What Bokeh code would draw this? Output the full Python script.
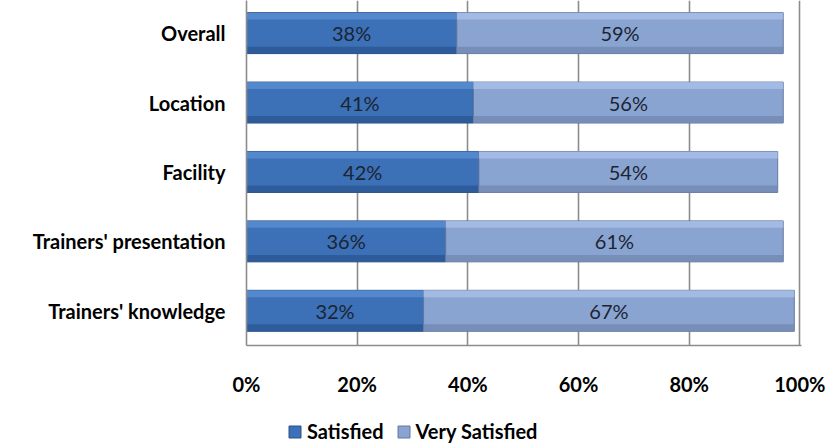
from bokeh.plotting import figure
from bokeh.layouts import column
from bokeh.models import ColumnDataSource, FixedTicker, Legend, LegendItem
from bokeh.transform import dodge
from bokeh.core.properties import value
from bokeh.embed import file_html
from bokeh.resources import INLINE

categories = ["Trainers' knowledge", "Trainers' presentation", "Facility", "Location", "Overall"]
satisfied = [32, 36, 42, 41, 38]
very_satisfied = [67, 61, 54, 56, 59]
series_names = ["Satisfied", "Very Satisfied"]
x_ticks = [0, 20, 40, 60, 80, 100]
x_tick_labels = ["0%", "20%", "40%", "60%", "80%", "100%"]

FONT = "Lato"
BAR_H = 0.59

ypos = list(range(len(categories)))
src = ColumnDataSource(dict(
    y=ypos,
    s0=[0] * len(satisfied),
    s1=satisfied,
    v1=[a + b for a, b in zip(satisfied, very_satisfied)],
    s_mid=[a / 2 for a in satisfied],
    v_mid=[a + b / 2 for a, b in zip(satisfied, very_satisfied)],
    s_lbl=[f"{a}%" for a in satisfied],
    v_lbl=[f"{b}%" for b in very_satisfied],
))

p = figure(width=832, height=398, x_range=(0, 100.3), y_range=(-0.5, 4.47),
           output_backend="svg", toolbar_location=None,
           min_border_top=0, min_border_left=246, min_border_right=31, min_border_bottom=52)
p.outline_line_color = None
p.background_fill_color = "white"
p.border_fill_color = "white"

# gridlines
p.xgrid.ticker = FixedTicker(ticks=x_ticks[1:])
p.xgrid.grid_line_color = "#8c8c8c"
p.xgrid.grid_line_width = 1.6
p.ygrid.grid_line_color = None

styles = {
    "Satisfied": dict(mid="#3c70b7", top="#5a8ed2", bot="#2b5894", edge="#2a5088"),
    "Very Satisfied": dict(mid="#8aa4d1", top="#a9c1e8", bot="#7288b3", edge="#62789f"),
}
cols = {"Satisfied": ("s0", "s1"), "Very Satisfied": ("s1", "v1")}

for name in series_names:
    left, right = cols[name]
    st = styles[name]
    p.hbar(y="y", left=left, right=right, height=BAR_H, source=src,
           fill_color=st["mid"], line_color=st["edge"], line_width=1)
    p.hbar(y=dodge("y", BAR_H / 2 - 0.05, range=p.y_range), left=left, right=right, height=0.1,
           source=src, fill_color=st["top"], line_color=None, fill_alpha=0.8)
    p.hbar(y=dodge("y", -BAR_H / 2 + 0.05, range=p.y_range), left=left, right=right, height=0.1,
           source=src, fill_color=st["bot"], line_color=None, fill_alpha=0.8)

for xcol, tcol in [("s_mid", "s_lbl"), ("v_mid", "v_lbl")]:
    p.text(x=xcol, y="y", text=tcol, source=src, text_align="center", text_baseline="middle",
           text_font=value(FONT), text_font_size="20px", text_color="#1b2433")

# y axis
p.yaxis.ticker = FixedTicker(ticks=ypos)
p.yaxis.major_label_overrides = {i: c for i, c in zip(ypos, categories)}
p.yaxis.major_tick_line_color = None
p.yaxis.minor_tick_line_color = None
p.yaxis.axis_line_color = "#8c8c8c"
p.yaxis.axis_line_width = 1.6
p.yaxis.major_label_text_font = FONT
p.yaxis.major_label_text_font_style = "bold"
p.yaxis.major_label_text_font_size = "20px"
p.yaxis.major_label_text_color = "black"
p.yaxis.major_label_standoff = 15

# x axis
p.xaxis.ticker = FixedTicker(ticks=x_ticks)
p.xaxis.major_label_overrides = {t: l for t, l in zip(x_ticks, x_tick_labels)}
p.xaxis.major_tick_line_color = None
p.xaxis.minor_tick_line_color = None
p.xaxis.axis_line_color = "#8c8c8c"
p.xaxis.axis_line_width = 1.6
p.xaxis.major_label_text_font = FONT
p.xaxis.major_label_text_font_style = "bold"
p.xaxis.major_label_text_font_size = "20px"
p.xaxis.major_label_text_color = "black"
p.xaxis.major_label_standoff = 20

# legend strip: a small figure below the chart whose view shows none of its bars,
# so only its legend is visible
lg = figure(width=832, height=47, x_range=(1000, 1001), y_range=(1000, 1001),
            output_backend="svg", toolbar_location=None,
            x_axis_type=None, y_axis_type=None,
            min_border_top=0, min_border_left=0, min_border_right=0, min_border_bottom=0)
lg.outline_line_color = None
lg.xgrid.grid_line_color = None
lg.ygrid.grid_line_color = None
legend_items = []
for name in series_names:
    left, right = cols[name]
    st = styles[name]
    r = lg.hbar(y="y", left=left, right=right, height=BAR_H, source=src,
                fill_color=st["mid"], line_color=st["edge"], line_width=1)
    legend_items.append(LegendItem(label=name, renderers=[r]))

legend = Legend(items=legend_items, orientation="horizontal", location=(41, 2),
                glyph_width=15, glyph_height=15, label_standoff=5, spacing=12,
                label_text_font=FONT, label_text_font_style="bold", label_text_font_size="20px",
                label_text_color="black", border_line_color=None, background_fill_alpha=0,
                padding=0, margin=0)
lg.add_layout(legend, "center")

layout = column(p, lg, spacing=0)
open("out.html", "w").write(file_html(layout, INLINE))
